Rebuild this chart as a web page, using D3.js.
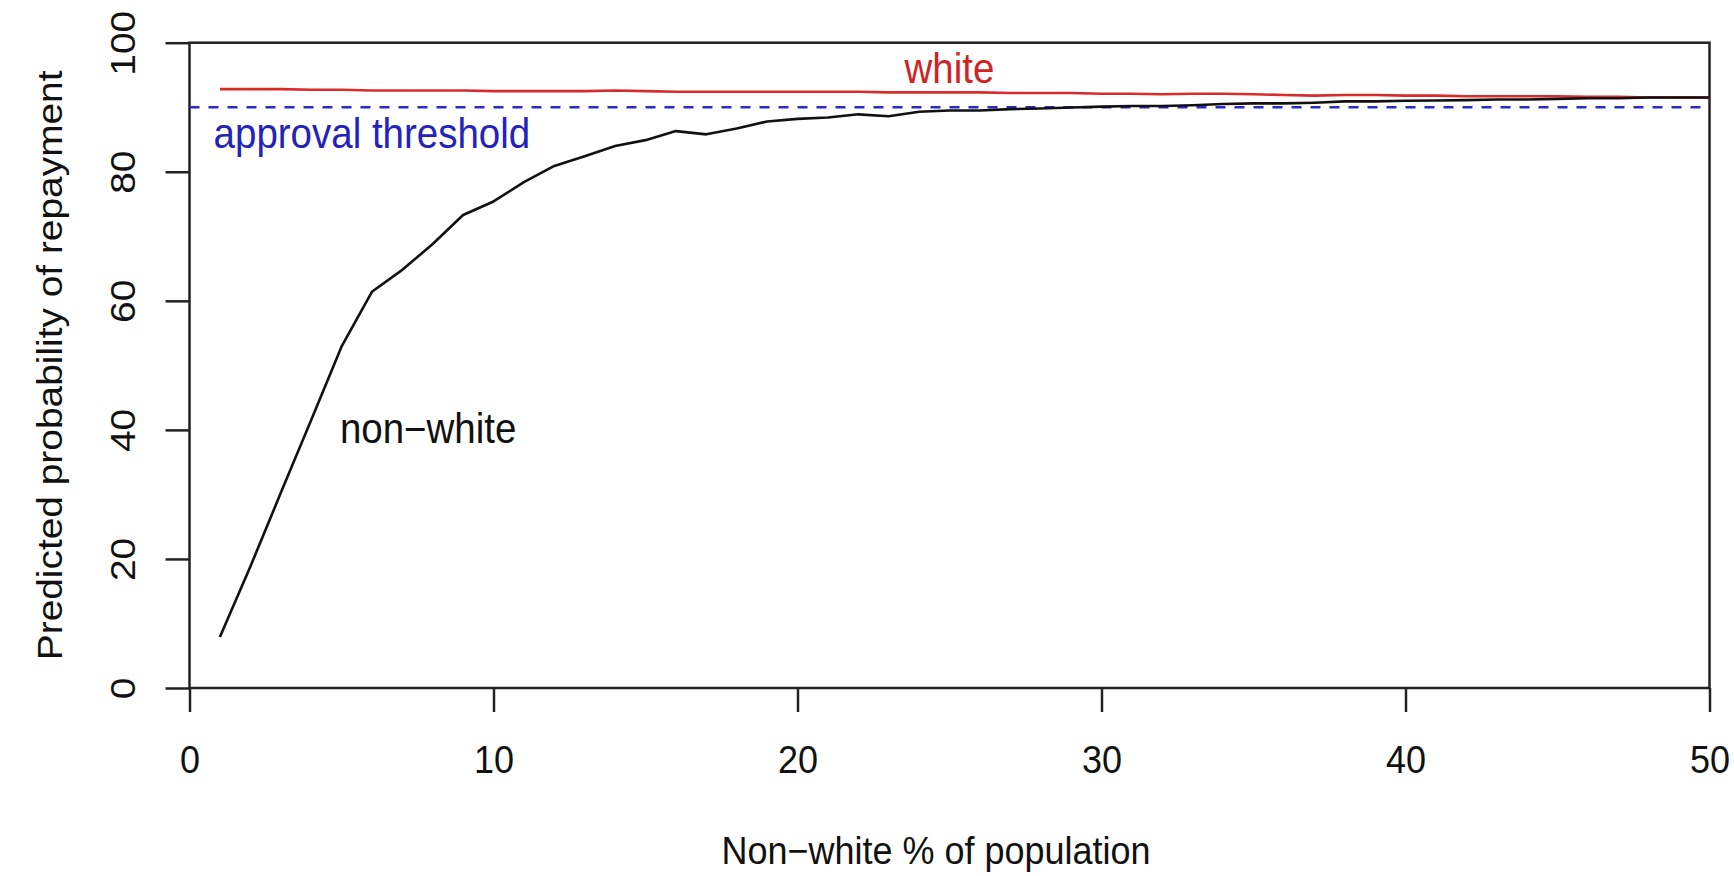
<!DOCTYPE html>
<html>
<head>
<meta charset="utf-8">
<script src="https://cdn.jsdelivr.net/npm/d3@7"></script>
<style>
  html, body { margin: 0; padding: 0; background: #fff; }
  svg { display: block; }
  text { font-family: "Liberation Sans", Arial, Helvetica, sans-serif; }
</style>
</head>
<body>
<svg id="chart" width="1734" height="876"></svg>
<script>
// ---- data ----
const pctNonWhite = d3.range(1, 51);
const nonWhiteProb = [7.9, 18.8, 30.2, 41.5, 52.9, 61.4, 64.8, 68.8, 73.3, 75.4,
  78.4, 80.9, 82.4, 84.0, 84.9, 86.3, 85.8, 86.7, 87.8, 88.2,
  88.4, 88.9, 88.6, 89.3, 89.5, 89.5, 89.7, 89.8, 89.95, 90.1,
  90.2, 90.2, 90.3, 90.5, 90.6, 90.6, 90.7, 90.9, 90.9, 91.0,
  91.05, 91.1, 91.2, 91.2, 91.3, 91.4, 91.4, 91.5, 91.5, 91.5];
const whiteProb = [92.8, 92.8, 92.8, 92.7, 92.7, 92.6, 92.6, 92.6, 92.6, 92.5,
  92.5, 92.5, 92.5, 92.6, 92.5, 92.4, 92.4, 92.4, 92.4, 92.4,
  92.4, 92.4, 92.3, 92.3, 92.3, 92.3, 92.2, 92.2, 92.2, 92.1,
  92.1, 92.0, 92.1, 92.1, 92.0, 91.9, 91.8, 91.9, 91.9, 91.8,
  91.8, 91.7, 91.7, 91.7, 91.7, 91.6, 91.6, 91.5, 91.5, 91.5];
const approvalThreshold = 90;
const xTicks = [0, 10, 20, 30, 40, 50];
const yTicks = [0, 20, 40, 60, 80, 100];
const labels = {
  x: "Non\u2212white % of population",
  y: "Predicted probability of repayment",
  white: "white",
  nonWhite: "non\u2212white",
  threshold: "approval threshold"
};

// ---- layout ----
const L = 189.5, R = 1709.5, T = 42.7, B = 688;
const FS = 36;      // axis text
const FSA = 38.5;   // annotations
const SY = 1.08;    // vertical stretch of glyphs seen in the reference
const svg = d3.select("#chart");
const x = d3.scaleLinear().domain([0, 50]).range([L, R]);
const y = d3.scaleLinear().domain([0, 100]).range([B, T]);

const axisColor = "#222";
const textColor = "#111";

// x axis
const gx = svg.append("g").attr("transform", `translate(0,${B})`)
  .call(d3.axisBottom(x).tickValues(xTicks).tickSize(24).tickSizeOuter(0).tickFormat(d3.format("d")));
gx.select(".domain").remove();
gx.selectAll(".tick line").attr("stroke", axisColor).attr("stroke-width", 2.5);
gx.selectAll(".tick text").attr("y", null).attr("dy", null)
  .attr("transform", `translate(0,85) scale(1,${SY})`)
  .attr("font-size", FS).attr("fill", textColor).style("font-family", "Liberation Sans, Arial, sans-serif");

// y axis
const gy = svg.append("g").attr("transform", `translate(${L},0)`)
  .call(d3.axisLeft(y).tickValues(yTicks).tickSize(24).tickSizeOuter(0).tickFormat(d3.format("d")));
gy.select(".domain").remove();
gy.selectAll(".tick line").attr("stroke", axisColor).attr("stroke-width", 2.5);
gy.selectAll(".tick text")
  .attr("x", null).attr("y", null).attr("dy", null).attr("dx", null)
  .attr("text-anchor", "middle")
  .attr("transform", `translate(${135 - L},0) rotate(-90) scale(${SY},1)`)
  .attr("font-size", FS).attr("fill", textColor).style("font-family", "Liberation Sans, Arial, sans-serif");

// box
svg.append("rect").attr("x", L).attr("y", T).attr("width", R - L).attr("height", B - T)
  .attr("fill", "none").attr("stroke", axisColor).attr("stroke-width", 2.5);

// threshold line
svg.append("line")
  .attr("x1", x(0)).attr("x2", x(50))
  .attr("y1", y(approvalThreshold)).attr("y2", y(approvalThreshold))
  .attr("stroke", "#2a2ac8").attr("stroke-width", 2.5).attr("stroke-dasharray", "10,9");

const line = d3.line().x((d, i) => x(pctNonWhite[i])).y(d => y(d));

svg.append("path").datum(whiteProb).attr("d", line)
  .attr("fill", "none").attr("stroke", "#d92b2b").attr("stroke-width", 2.6);
svg.append("path").datum(nonWhiteProb).attr("d", line)
  .attr("fill", "none").attr("stroke", "#111").attr("stroke-width", 2.6).attr("stroke-linejoin", "round");

// annotations
function hText(px, py, str, color, fs) {
  svg.append("text").attr("transform", `translate(${px},${py}) scale(1,${SY})`)
    .attr("text-anchor", "middle").attr("font-size", fs).attr("fill", color).text(str);
}
hText(x(25), 83, labels.white, "#d02424", FSA);
hText(x(6), 148, labels.threshold, "#2323bb", FSA);
hText(x(7.85), 443, labels.nonWhite, textColor, FSA);

// axis titles
hText(936, 864, labels.x, textColor, FS);
svg.append("text").attr("transform", `translate(62,${(T + B) / 2}) rotate(-90) scale(${SY},1)`)
  .attr("text-anchor", "middle").attr("font-size", FS).attr("fill", textColor).text(labels.y);
</script>
</body>
</html>
